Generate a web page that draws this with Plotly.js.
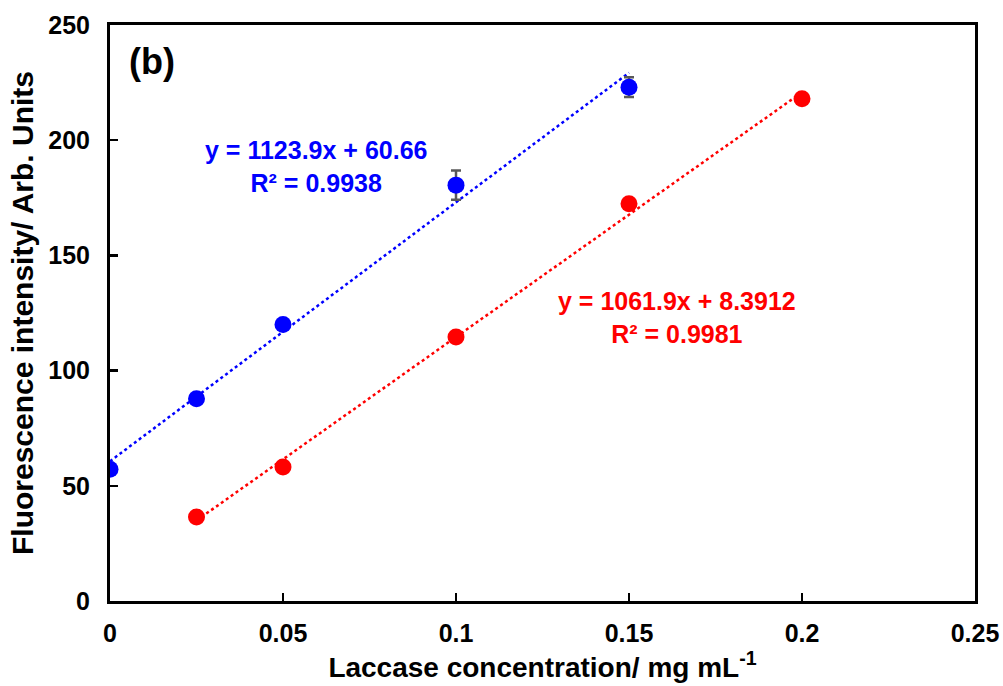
<!DOCTYPE html>
<html>
<head>
<meta charset="utf-8">
<script src="https://cdn.plot.ly/plotly-3.0.1.min.js"></script>
<style>html,body{margin:0;padding:0;background:#fff;}#chart{width:1003px;height:686px;}</style>
</head>
<body>
<div id="chart"></div>
<script>
var blueX = [0, 0.025, 0.05, 0.1, 0.15];
var blueY = [57.2, 87.8, 120.0, 180.5, 223.0];
var blueErr = [0, 0, 0, 6.3, 4.3];
var redX = [0.025, 0.05, 0.1, 0.15, 0.2];
var redY = [36.5, 58.2, 114.6, 172.4, 218.0];
var redErr = [0, 0, 0, 0, 0];
var blueFit = {slope: 1123.9, intercept: 60.66, r2: 0.9938};
var redFit = {slope: 1061.9, intercept: 8.3912, r2: 0.9981};
var xTicks = [0, 0.05, 0.1, 0.15, 0.2, 0.25];
var xTickText = ['0', '0.05', '0.1', '0.15', '0.2', '0.25'];
var yTicks = [0, 50, 100, 150, 200, 250];

function fitLine(xs, fit){
  var x0 = Math.min.apply(null, xs), x1 = Math.max.apply(null, xs);
  return {x:[x0, x1], y:[fit.slope*x0+fit.intercept, fit.slope*x1+fit.intercept]};
}
var bl = fitLine(blueX, blueFit), rl = fitLine(redX, redFit);
var font = 'Liberation Sans, Arial, sans-serif';

var traces = [
  {x: bl.x, y: bl.y, mode:'lines', line:{color:'#0000ff', width:2.5, dash:'dot'}, hoverinfo:'skip'},
  {x: rl.x, y: rl.y, mode:'lines', line:{color:'#ff0000', width:2.5, dash:'dot'}, hoverinfo:'skip'},
  {x: blueX, y: blueY, mode:'markers', marker:{color:'#0000ff', size:17},
   error_y:{type:'data', array: blueErr, visible:true, color:'#595959', thickness:2.5, width:5}},
  {x: redX, y: redY, mode:'markers', marker:{color:'#ff0000', size:17},
   error_y:{type:'data', array: redErr, visible:true, color:'#595959', thickness:2.5, width:5}}
];

var layout = {
  width:1003, height:686,
  margin:{l:110, r:28, t:25, b:85},
  paper_bgcolor:'#fff', plot_bgcolor:'#fff',
  showlegend:false,
  font:{family:font, color:'#000'},
  xaxis:{range:[0,0.25], tickvals:xTicks, ticktext:xTickText, ticks:'inside', ticklen:8, tickwidth:2.5, tickcolor:'#000',
    ticklabelstandoff:8,
    showline:true, linecolor:'#000', linewidth:3, mirror:true, showgrid:false, zeroline:false,
    tickfont:{family:font, size:25, color:'#000', weight:'bold'},
    title:{text:'Laccase concentration/ mg mL<sup>-1</sup>', font:{family:font, size:28, color:'#000', weight:'bold'}, standoff:4}},
  yaxis:{range:[0,250], tickvals:yTicks, ticks:'inside', ticklen:8, tickwidth:2.5, tickcolor:'#000',
    ticklabelstandoff:12,
    showline:true, linecolor:'#000', linewidth:3, mirror:true, showgrid:false, zeroline:false,
    tickfont:{family:font, size:25, color:'#000', weight:'bold'},
    title:{text:'Fluorescence intensity/ Arb. Units', font:{family:font, size:30, color:'#000', weight:'bold'}, standoff:6}},
  annotations:[
    {xref:'paper', yref:'paper', x:0.02, y:0.937, xanchor:'left', yanchor:'middle', showarrow:false,
     text:'<b>(b)</b>', font:{family:font, size:36, color:'#000'}},
    {xref:'x', yref:'y', x:0.0595, y:188.8, showarrow:false, align:'center',
     text:'<b>y = ' + blueFit.slope + 'x + ' + blueFit.intercept + '<br>R² = ' + blueFit.r2 + '</b>',
     font:{family:font, size:25, color:'#0000ff'}},
    {xref:'x', yref:'y', x:0.164, y:123.0, showarrow:false, align:'center',
     text:'<b>y = ' + redFit.slope + 'x + ' + redFit.intercept + '<br>R² = ' + redFit.r2 + '</b>',
     font:{family:font, size:25, color:'#ff0000'}}
  ]
};
Plotly.newPlot('chart', traces, layout, {displayModeBar:false, staticPlot:true});
</script>
</body>
</html>
